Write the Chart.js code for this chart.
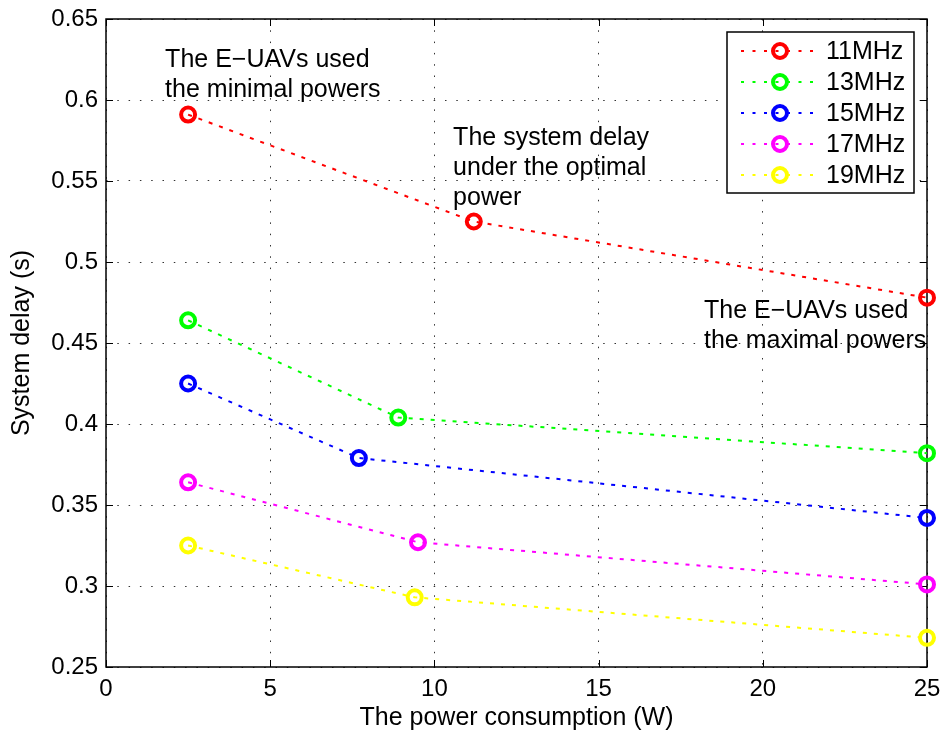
<!DOCTYPE html>
<html>
<head>
<meta charset="utf-8">
<script src="https://cdn.jsdelivr.net/npm/chart.js@4"></script>
<style>
  body { margin: 0; background: #fff; }
  canvas { display: block; }
</style>
</head>
<body>
<canvas id="canvas" width="944" height="738"></canvas>
<script>
// series: x = power (W), y = delay (s)
const seriesLabels = ['11MHz', '13MHz', '15MHz', '17MHz', '19MHz'];
const seriesColors = ['#ff0000', '#00ff00', '#0000ff', '#ff00ff', '#ffff00'];
const power11 = [2.5, 11.2, 25];
const delay11 = [0.591, 0.525, 0.478];
const power13 = [2.5, 8.9, 25];
const delay13 = [0.464, 0.404, 0.382];
const power15 = [2.5, 7.7, 25];
const delay15 = [0.425, 0.379, 0.342];
const power17 = [2.5, 9.5, 25];
const delay17 = [0.364, 0.327, 0.301];
const power19 = [2.5, 9.4, 25];
const delay19 = [0.325, 0.293, 0.268];
const powers = [power11, power13, power15, power17, power19];
const delays = [delay11, delay13, delay15, delay17, delay19];

const xTitle = 'The power consumption (W)';
const yTitle = 'System delay (s)';

// text notes, anchored at (x, y) in data units, first line
const notes = [
  { x: 1.8, y: 0.6247, lines: ['The E\u2212UAVs used', 'the minimal powers'] },
  { x: 10.57, y: 0.5765, lines: ['The system delay', 'under the optimal', 'power'] },
  { x: 18.21, y: 0.4698, lines: ['The E\u2212UAVs used', 'the maximal powers'] }
];

const FONT = "'Liberation Sans', Arial, sans-serif";
Chart.defaults.font.family = FONT;
Chart.defaults.color = '#000';

var datasets = seriesLabels.map(function (name, i) {
  return {
    label: name,
    data: powers[i].map(function (p, j) { return { x: p, y: delays[i][j] }; }),
    showLine: true,
    borderColor: seriesColors[i],
    borderWidth: 2,
    borderDash: [4, 7],
    pointStyle: 'circle',
    pointRadius: 7,
    pointBorderWidth: 4,
    pointBorderColor: seriesColors[i],
    pointBackgroundColor: 'rgba(0,0,0,0)',
    pointHoverRadius: 7,
    clip: false
  };
});

// MATLAB style box with inward ticks
var boxPlugin = {
  id: 'box',
  beforeDatasetsDraw: function (chart) {
    var ctx = chart.ctx, a = chart.chartArea;
    var xs = chart.scales.x, ys = chart.scales.y;
    var len = 7;
    ctx.save();
    ctx.strokeStyle = '#000';
    ctx.lineWidth = 1.5;
    ctx.setLineDash([]);
    ctx.strokeRect(a.left, a.top, a.right - a.left, a.bottom - a.top);
    ctx.lineWidth = 1;
    ctx.beginPath();
    xs.ticks.forEach(function (t) {
      var px = Math.round(xs.getPixelForValue(t.value)) + 0.5;
      ctx.moveTo(px, a.bottom); ctx.lineTo(px, a.bottom - len);
      ctx.moveTo(px, a.top); ctx.lineTo(px, a.top + len);
    });
    ys.ticks.forEach(function (t) {
      var py = Math.round(ys.getPixelForValue(t.value)) + 0.5;
      ctx.moveTo(a.left, py); ctx.lineTo(a.left + len, py);
      ctx.moveTo(a.right, py); ctx.lineTo(a.right - len, py);
    });
    ctx.stroke();
    ctx.restore();
  }
};

var notesPlugin = {
  id: 'notes',
  afterDraw: function (chart) {
    var ctx = chart.ctx;
    var xs = chart.scales.x, ys = chart.scales.y;
    ctx.save();
    ctx.fillStyle = '#000';
    ctx.font = '25px ' + FONT;
    ctx.textAlign = 'left';
    ctx.textBaseline = 'middle';
    notes.forEach(function (n) {
      var px = xs.getPixelForValue(n.x);
      var py = ys.getPixelForValue(n.y);
      n.lines.forEach(function (s, k) {
        ctx.fillText(s, px, py + k * 30);
      });
    });
    ctx.restore();
  }
};

// legend box inside the plot, top right
var legendPlugin = {
  id: 'boxLegend',
  afterDraw: function (chart) {
    var ctx = chart.ctx;
    var left = 727, top = 32, w = 187, h = 161;
    ctx.save();
    ctx.fillStyle = '#fff';
    ctx.fillRect(left, top, w, h);
    ctx.strokeStyle = '#000';
    ctx.lineWidth = 1.5;
    ctx.strokeRect(left, top, w, h);
    chart.data.datasets.forEach(function (ds, i) {
      var cy = top + 19 + i * 31;
      ctx.strokeStyle = ds.borderColor;
      ctx.lineWidth = 2;
      ctx.setLineDash([3, 8.5]);
      ctx.beginPath();
      ctx.moveTo(left + 14, cy); ctx.lineTo(left + 87, cy);
      ctx.stroke();
      ctx.setLineDash([]);
      ctx.lineWidth = 4;
      ctx.beginPath();
      ctx.arc(left + 53, cy, 7, 0, Math.PI * 2);
      ctx.stroke();
      ctx.fillStyle = '#000';
      ctx.font = '25px ' + FONT;
      ctx.textAlign = 'left';
      ctx.textBaseline = 'middle';
      ctx.fillText(ds.label, left + 99, cy + 1);
    });
    ctx.restore();
  }
};

var ctx = document.getElementById('canvas').getContext('2d');
window.myChart = new Chart(ctx, {
  type: 'scatter',
  data: { datasets: datasets },
  plugins: [boxPlugin, notesPlugin, legendPlugin],
  options: {
    responsive: false,
    animation: false,
    events: [],
    layout: { padding: { top: 19, right: 17, left: 0, bottom: 0 } },
    plugins: {
      legend: { display: false },
      tooltip: { enabled: false }
    },
    scales: {
      x: {
        type: 'linear',
        min: 0,
        max: 25,
        afterFit: function (s) {
          s.height = 71;
          s.paddingLeft = 0;
          s.paddingRight = 0;
        },
        ticks: {
          stepSize: 5,
          maxRotation: 0,
          autoSkip: false,
          padding: 8,
          font: { size: 24 },
          color: '#000'
        },
        grid: { color: '#333', lineWidth: 1, drawTicks: false },
        border: { display: false, dash: [1.5, 9.8] },
        title: {
          display: true,
          text: xTitle,
          font: { size: 25 },
          color: '#000',
          padding: { top: 0, bottom: 5 }
        }
      },
      y: {
        type: 'linear',
        min: 0.25,
        max: 0.65,
        afterFit: function (s) {
          s.width = 106;
          s.paddingTop = 0;
          s.paddingBottom = 0;
        },
        ticks: {
          stepSize: 0.05,
          padding: 8,
          font: { size: 24 },
          color: '#000',
          callback: function (v) { return String(+v.toFixed(2)); }
        },
        grid: { color: '#333', lineWidth: 1, drawTicks: false },
        border: { display: false, dash: [1.5, 9.8] },
        title: {
          display: true,
          text: yTitle,
          font: { size: 25 },
          color: '#000',
          padding: { top: 7, bottom: 0 }
        }
      }
    }
  }
});
</script>
</body>
</html>
